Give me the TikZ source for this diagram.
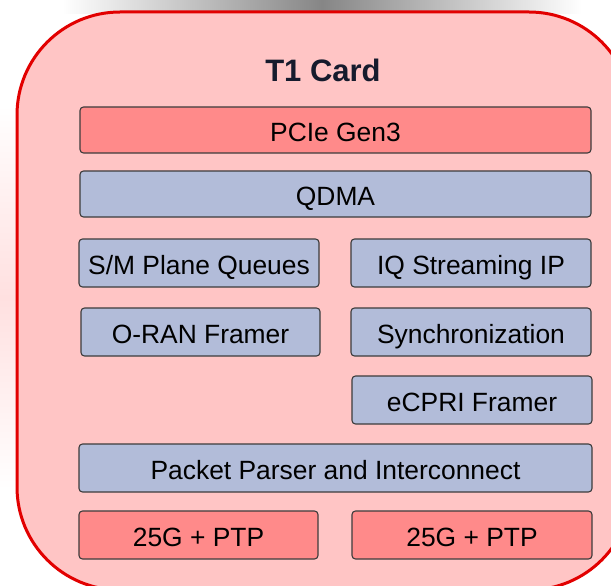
\documentclass[tikz,border=0pt]{standalone}
\usepackage{fontspec}
\setmainfont{Liberation Sans}

\definecolor{cardfill}{RGB}{255,197,197}
\definecolor{cardline}{RGB}{226,0,0}
\definecolor{hwred}{RGB}{255,138,138}
\definecolor{ipblue}{RGB}{178,188,217}
\definecolor{boxline}{RGB}{60,60,60}
\definecolor{titleink}{RGB}{22,27,45}
\definecolor{shadowgray}{RGB}{134,134,134}
\definecolor{hazepink}{RGB}{255,224,224}

\begin{document}
\begin{tikzpicture}[x=1pt, y=-1pt,
  block/.style={draw=boxline, line width=1.1pt, rounded corners=3.5pt,
    inner sep=0pt, text=black, font=\fontsize{26.4}{30}\selectfont,
    text height=22.3pt, text depth=0pt},
  hwblock/.style={block, fill=hwred},
  ipblock/.style={block, fill=ipblue},
  cardbox/.style={draw=cardline, fill=cardfill, line width=3pt,
    rounded corners=103pt, inner sep=0pt},
  titletext/.style={font=\bfseries\fontsize{31}{36}\selectfont, text=titleink,
    text height=22.2pt, text depth=0pt, inner sep=0pt}]

\useasboundingbox (0,0) rectangle (611,586);
\clip (0,0) rectangle (611,586);

% soft shadow above the card
\shade[left color=white, right color=white, middle color=shadowgray]
  (62,0) rectangle (582,14);
% pink haze along the left side
\shade[top color=white, bottom color=white, middle color=hazepink]
  (0,105) rectangle (19,490);

% the card
\node[cardbox, minimum width=615pt, minimum height=578pt] (card) at (324.5,301) {};
\node[titletext] (title) at (323,70) {T1 Card};

% host side
\node[hwblock, minimum width=511pt, minimum height=46pt] (pcie) at (335.5,130) {PCIe Gen3};
\node[ipblock, minimum width=511pt, minimum height=46pt] (qdma) at (335.5,194) {QDMA};

% function blocks
\node[ipblock, minimum width=240pt, minimum height=48pt] (smq) at (199,263) {S/M Plane Queues};
\node[ipblock, minimum width=240pt, minimum height=48pt] (iq) at (471,263) {IQ Streaming IP};
\node[ipblock, minimum width=239pt, minimum height=48pt] (oran) at (200.5,332) {O-RAN Framer};
\node[ipblock, minimum width=240pt, minimum height=48pt] (sync) at (471,332) {Synchronization};
\node[ipblock, minimum width=240pt, minimum height=48pt] (ecpri) at (472,400) {eCPRI Framer};

% network side
\node[ipblock, minimum width=513pt, minimum height=48pt] (parser) at (335.5,468) {Packet Parser and Interconnect};
\node[hwblock, minimum width=239pt, minimum height=48pt] (ethA) at (198.5,535) {25G + PTP};
\node[hwblock, minimum width=240pt, minimum height=48pt] (ethB) at (472,535) {25G + PTP};

\end{tikzpicture}
\end{document}
